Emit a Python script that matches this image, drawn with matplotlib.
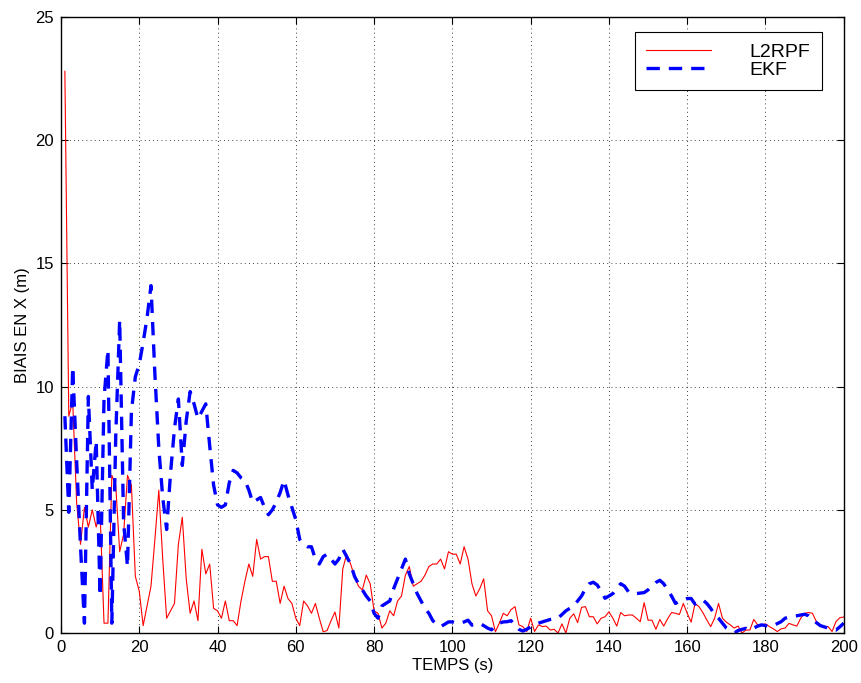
import numpy as np
import matplotlib
matplotlib.use("Agg")
import matplotlib.pyplot as plt

plt.rcParams['font.family'] = ['Liberation Sans', 'DejaVu Sans']

# temps (s)
temps = np.arange(1, 201)

# biais du filtre L2RPF
biais_l2rpf = [
    22.8, 8.8, 9.4, 5.3, 3.6, 5.1, 4.3, 5.0, 4.3, 4.9,
    0.4, 0.4, 6.4, 6.0, 3.3, 4.0, 6.4, 6.0, 2.3, 1.7,
    0.3, 1.1, 1.9, 3.8, 5.8, 3.0, 0.6, 0.9, 1.2, 3.6,
    4.7, 2.2, 0.8, 1.3, 0.5, 3.4, 2.4, 2.8, 1.0, 0.9,
    0.6, 1.3, 0.5, 0.5, 0.3, 1.3, 2.1, 2.8, 2.3, 3.8,
    3.0, 3.1, 3.1, 2.1, 2.1, 1.2, 1.9, 1.4, 1.2, 0.6,
    0.3, 1.3, 1.1, 0.8, 1.2, 0.6, 0.05, 0.1, 0.5, 0.85,
    0.2, 2.6, 3.2, 2.8, 2.3, 1.9, 1.75, 2.35, 2.0, 0.9,
    0.8, 0.2, 0.4, 0.9, 0.7, 1.3, 1.5, 2.35, 2.7, 1.9,
    2.0, 2.1, 2.35, 2.7, 2.8, 2.8, 3.0, 2.6, 3.3, 3.2,
    3.2, 2.8, 3.5, 3.0, 2.0, 1.5, 1.8, 2.2, 0.9, 0.7,
    0.05, 0.4, 0.8, 0.7, 0.95, 1.07, 0.33, 0.26, 0.06, 0.6,
    0.06, 0.33, 0.26, 0.28, 0.12, 0.15, 0.0, 0.37, 0.0, 0.6,
    0.78, 0.42, 1.04, 1.07, 0.66, 0.66, 0.37, 0.6, 0.66, 0.86,
    0.6, 0.28, 0.83, 0.7, 0.73, 0.73, 0.6, 0.46, 1.23, 0.52,
    0.52, 0.15, 0.55, 0.28, 0.58, 0.83, 0.8, 0.75, 1.2, 0.8,
    0.44, 1.2, 1.07, 0.83, 0.53, 0.26, 0.6, 1.2, 0.6, 0.44,
    0.33, 0.2, 0.28, 0.0, 0.12, 0.12, 0.55, 0.33, 0.33, 0.37,
    0.26, 0.17, 0.06, 0.17, 0.2, 0.39, 0.33, 0.28, 0.6, 0.8,
    0.83, 0.8, 0.46, 0.33, 0.26, 0.26, 0.06, 0.46, 0.62, 0.65,
]

# biais du filtre EKF
biais_ekf = [
    8.8, 4.9, 10.8, 7.0, 3.5, 0.4, 9.6, 5.8, 7.8, 1.5,
    9.5, 11.5, 0.4, 8.0, 12.7, 4.5, 2.7, 9.0, 10.4, 10.9,
    11.8, 12.8, 14.1, 10.5, 7.5, 5.5, 4.2, 6.5, 8.3, 9.5,
    6.8, 8.6, 9.8, 9.3, 8.7, 9.0, 9.3, 7.6, 6.0, 5.2,
    5.1, 5.2, 6.1, 6.6, 6.5, 6.3, 6.2, 5.8, 5.3, 5.4,
    5.5, 5.1, 4.8, 5.0, 5.3, 5.7, 6.2, 5.6, 5.1, 4.6,
    3.8, 3.6, 3.5, 3.5, 3.0, 2.8, 3.1, 3.2, 3.0, 2.8,
    3.0, 3.4, 3.1, 2.8, 2.3, 2.0, 1.75, 1.5, 1.3, 0.8,
    0.6, 1.1, 1.2, 1.3, 1.8, 2.2, 2.6, 3.0, 2.4, 2.0,
    1.6, 1.3, 1.0, 0.8, 0.5, 0.35, 0.26, 0.35, 0.45, 0.45,
    0.4, 0.4, 0.45, 0.52, 0.32, 0.35, 0.39, 0.3, 0.2, 0.13,
    0.3, 0.4, 0.45, 0.46, 0.5, 0.3, 0.15, 0.08, 0.15, 0.25,
    0.33, 0.4, 0.45, 0.5, 0.55, 0.58, 0.6, 0.75, 0.9, 1.0,
    1.1, 1.3, 1.5, 1.8, 2.0, 2.06, 1.95, 1.7, 1.41, 1.5,
    1.6, 1.8, 2.0, 1.9, 1.67, 1.6, 1.6, 1.62, 1.64, 1.75,
    1.9, 2.05, 2.14, 2.0, 1.75, 1.5, 1.2, 1.3, 1.34, 1.4,
    1.4, 1.17, 1.25, 1.34, 1.2, 1.0, 0.75, 0.6, 0.4, 0.2,
    0.1, 0.0, 0.1, 0.15, 0.19, 0.12, 0.2, 0.28, 0.33, 0.3,
    0.26, 0.3, 0.38, 0.46, 0.6, 0.65, 0.68, 0.7, 0.73, 0.76,
    0.7, 0.55, 0.42, 0.3, 0.25, 0.2, 0.15, 0.12, 0.25, 0.4,
]

xticks = np.arange(0, 201, 20)
yticks = np.arange(0, 26, 5)

fig = plt.figure(figsize=(8.61, 6.83), dpi=100)
ax = fig.add_axes([0.0708, 0.0732, 0.9092, 0.9018])

ax.plot(temps, biais_l2rpf, color='red', lw=0.8, label='L2RPF')
ax.plot(temps, biais_ekf, color='blue', lw=2.4, dashes=(4, 2.7), label='EKF')

ax.set_xlim(0, 200)
ax.set_ylim(0, 25)
ax.set_xticks(xticks)
ax.set_yticks(yticks)
ax.tick_params(direction='in', top=True, right=True, length=5, width=0.8,
               labelsize=12, pad=5)
ax.grid(True, color='black', linestyle=(0, (1, 4)), lw=0.6)
for s in ax.spines.values():
    s.set_linewidth(1.0)

ax.set_xlabel('TEMPS (s)', fontsize=12, labelpad=2)
ax.set_ylabel('BIAIS EN X (m)', fontsize=12, labelpad=4)

leg = ax.legend(loc='upper right', bbox_to_anchor=(0.972, 0.976), borderaxespad=0,
                fontsize=14, handlelength=3.3, handletextpad=2.0,
                labelspacing=0.0, borderpad=0.6, fancybox=False,
                framealpha=1, edgecolor='black')
leg.get_frame().set_linewidth(0.8)

fig.savefig('out.png', dpi=100)
